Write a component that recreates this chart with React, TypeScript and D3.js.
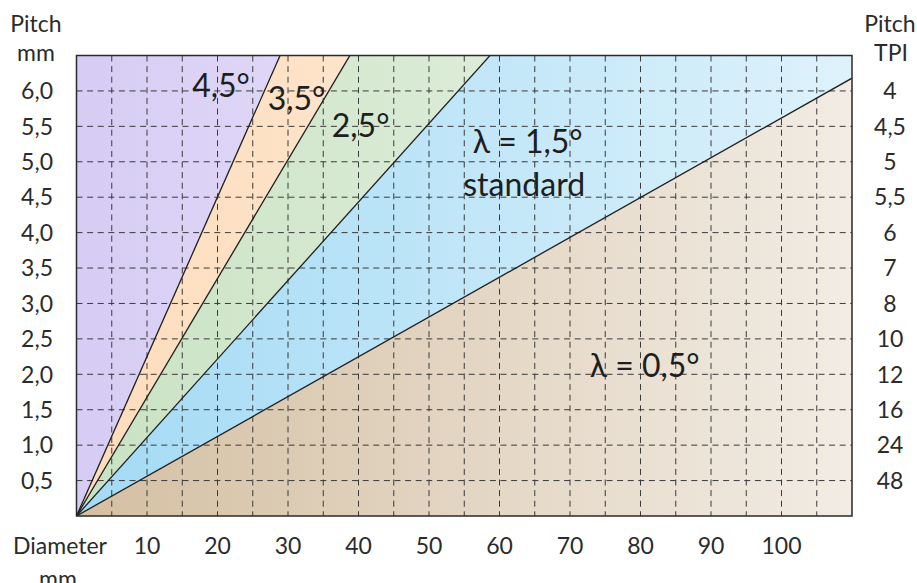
import React, { useRef, useEffect } from "react";
import * as d3 from "d3";

// pitch ticks on the left (mm) and matching TPI labels on the right
const pitchTicks = [0.5, 1.0, 1.5, 2.0, 2.5, 3.0, 3.5, 4.0, 4.5, 5.0, 5.5, 6.0];
const tpiLabels = ["48", "24", "16", "12", "10", "8", "7", "6", "5,5", "5", "4,5", "4"];
const diameterTicks = [10, 20, 30, 40, 50, 60, 70, 80, 90, 100];

// boundary lines between angle bands: pitch (mm) reached at diameter 110 mm
const boundaryPitchAt110 = [6.18, 12.19, 18.44, 24.76];

// bands from bottom to top
const bandNames = ["0,5", "1,5", "2,5", "3,5", "4,5"];
const bandColors = [
  ["#d4bfa2", "#f2ece4"],
  ["#a3daf5", "#def2fb"],
  ["#c9e2c3", "#eef5ea"],
  ["#fddcbb", "#fef3e6"],
  ["#d6ccf4", "#f8f5fe"],
];

const labels = [
  { text: "4,5°", d: 20.5, p: 5.91 },
  { text: "3,5°", d: 31.2, p: 5.73 },
  { text: "2,5°", d: 40.3, p: 5.35 },
  { text: "λ = 1,5°", d: 64.0, p: 5.12 },
  { text: "standard", d: 63.5, p: 4.52 },
  { text: "λ = 0,5°", d: 80.6, p: 1.96 },
];

const App = () => {
  const ref = useRef<SVGSVGElement>(null);

  useEffect(() => {
    const svg = d3.select(ref.current);
    svg.selectAll("*").remove();

    const left = 76.5;
    const right = 852;
    const top = 55.5;
    const bottom = 516;
    const font = "Lato, 'Noto Sans', sans-serif";
    const ink = "#2b2b2b";

    const x = d3.scaleLinear().domain([0, 110]).range([left, right]);
    const y = d3.scaleLinear().domain([0, 6.5]).range([bottom, top]);

    const defs = svg.append("defs");
    defs
      .append("clipPath")
      .attr("id", "plot-clip")
      .append("rect")
      .attr("x", left)
      .attr("y", top)
      .attr("width", right - left)
      .attr("height", bottom - top);

    bandColors.forEach((c, i) => {
      const g = defs
        .append("linearGradient")
        .attr("id", "band-" + i)
        .attr("gradientUnits", "userSpaceOnUse")
        .attr("x1", left)
        .attr("x2", right)
        .attr("y1", 0)
        .attr("y2", 0);
      g.append("stop").attr("offset", 0).attr("stop-color", c[0]);
      g.append("stop").attr("offset", 1).attr("stop-color", c[1]);
    });

    const plot = svg.append("g").attr("clip-path", "url(#plot-clip)");

    // bands as triangles from origin, clipped to the plot area
    const lines = [0, ...boundaryPitchAt110, 1000];
    const bands = bandNames.map((name, i) => [
      [0, 0],
      [110, lines[i]],
      [110, lines[i + 1]],
    ]);
    bands[4] = [
      [0, 0],
      [110, lines[4]],
      [110, 1000],
      [0, 1000],
    ];

    plot
      .selectAll("path.band")
      .data(bands)
      .enter()
      .append("path")
      .attr("class", "band")
      .attr("d", (pts) =>
        d3.line()(pts.map((p) => [x(p[0]), y(p[1])]) as [number, number][]) + "Z"
      )
      .attr("fill", (_, i) => `url(#band-${i})`);

    // dashed grid
    const gridX = d3.range(5, 110, 5);
    plot
      .selectAll("line.gx")
      .data(gridX)
      .enter()
      .append("line")
      .attr("x1", (d) => x(d))
      .attr("x2", (d) => x(d))
      .attr("y1", top)
      .attr("y2", bottom)
      .attr("stroke", "#3a3a3a")
      .attr("stroke-width", 1)
      .attr("stroke-dasharray", "6,4.6");
    plot
      .selectAll("line.gy")
      .data(pitchTicks)
      .enter()
      .append("line")
      .attr("x1", left)
      .attr("x2", right)
      .attr("y1", (d) => y(d))
      .attr("y2", (d) => y(d))
      .attr("stroke", "#3a3a3a")
      .attr("stroke-width", 1)
      .attr("stroke-dasharray", "6,4.6");

    // boundary lines
    plot
      .selectAll("line.bound")
      .data(boundaryPitchAt110)
      .enter()
      .append("line")
      .attr("x1", x(0))
      .attr("y1", y(0))
      .attr("x2", x(110))
      .attr("y2", (d) => y(d))
      .attr("stroke", "#1e1e1e")
      .attr("stroke-width", 1.3);

    // frame
    svg
      .append("rect")
      .attr("x", left)
      .attr("y", top)
      .attr("width", right - left)
      .attr("height", bottom - top)
      .attr("fill", "none")
      .attr("stroke", "#2a2a2a")
      .attr("stroke-width", 1.5);

    // band labels
    svg
      .selectAll("text.band-label")
      .data(labels)
      .enter()
      .append("text")
      .attr("x", (d) => x(d.d))
      .attr("y", (d) => y(d.p))
      .attr("text-anchor", "middle")
      .attr("font-family", font)
      .attr("font-size", 32)
      .attr("fill", "#1e1e1e")
      .text((d) => d.text);

    // left axis labels
    svg
      .selectAll("text.ly")
      .data(pitchTicks)
      .enter()
      .append("text")
      .attr("x", 53)
      .attr("y", (d) => y(d))
      .attr("dy", "0.36em")
      .attr("text-anchor", "end")
      .attr("font-family", font)
      .attr("font-size", 23)
      .attr("fill", ink)
      .text((d) => d.toFixed(1).replace(".", ","));

    // right axis labels
    svg
      .selectAll("text.ry")
      .data(pitchTicks)
      .enter()
      .append("text")
      .attr("x", 890)
      .attr("y", (d) => y(d))
      .attr("dy", "0.36em")
      .attr("text-anchor", "middle")
      .attr("font-family", font)
      .attr("font-size", 23)
      .attr("fill", ink)
      .text((_, i) => tpiLabels[i]);

    // bottom axis labels
    svg
      .selectAll("text.bx")
      .data(diameterTicks)
      .enter()
      .append("text")
      .attr("x", (d) => x(d))
      .attr("y", 554)
      .attr("text-anchor", "middle")
      .attr("font-family", font)
      .attr("font-size", 23)
      .attr("fill", ink)
      .text((d) => d);

    const title = (t: string, tx: number, ty: number) =>
      svg
        .append("text")
        .attr("x", tx)
        .attr("y", ty)
        .attr("text-anchor", "middle")
        .attr("font-family", font)
        .attr("font-size", 23)
        .attr("fill", ink)
        .text(t);

    title("Pitch", 36, 32);
    title("mm", 36, 61);
    title("Pitch", 890, 32);
    title("TPI", 891, 61);
    title("Diameter", 60, 554);
    title("mm", 58, 587);
  }, []);

  return (
    <svg
      ref={ref}
      width={917}
      height={583}
      style={{ position: "absolute", left: 0, top: 0, background: "#fff" }}
    />
  );
};

export default App;
